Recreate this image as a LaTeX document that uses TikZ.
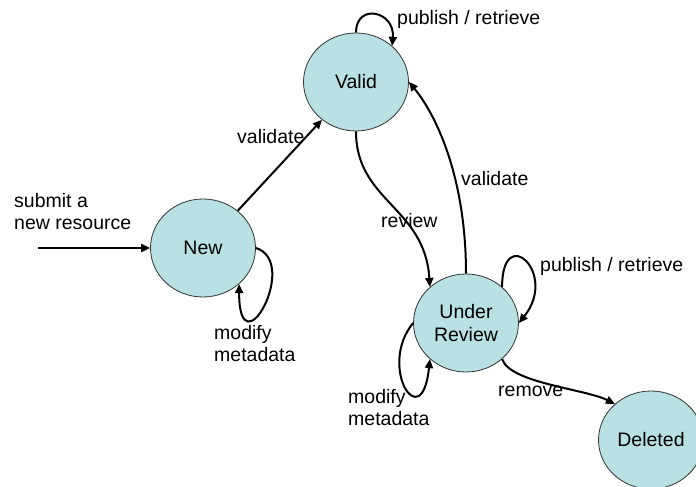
\documentclass[tikz,border=0pt]{standalone}
\usepackage{fontspec}
\setmainfont{Liberation Sans}
\usetikzlibrary{arrows.meta,shapes.geometric}
\definecolor{statefill}{RGB}{185,224,227}
\tikzset{
  state/.style={ellipse, draw=black!80, line width=0.8pt, fill=statefill,
    minimum width=105pt, minimum height=98pt, inner sep=0pt, align=center,
    font=\fontsize{19.5}{23}\selectfont},
  lbl/.style={anchor=west, inner sep=0pt, align=left,
    font=\fontsize{19.5}{22}\selectfont},
  arr/.style={line width=2pt, -{Triangle[length=9pt,width=8pt]}}
}
\begin{document}
\begin{tikzpicture}[x=1pt,y=1pt]
\clip (0,0) rectangle (696,487);
\fill[white] (0,0) rectangle (696,487);
% states (y = 487 - pixel row)
\node[state] (Valid) at (356,405) {Valid};
\node[state] (New) at (203,239) {New};
\node[state] (UR) at (466,164) {Under\\Review};
\node[state] (Del) at (651,47) {Deleted};
\coordinate (start) at (38,239);
% labels
\node[lbl] (Lsubmit) at (14,275.5) {submit a\\new resource};
\node[lbl] (Lval1) at (237,350) {validate};
\node[lbl] (Lpub1) at (397,468) {publish / retrieve};
\node[lbl] (Lval2) at (461,308) {validate};
\node[lbl] (Lrev) at (381,266) {review};
\node[lbl] (Lpub2) at (540,221) {publish / retrieve};
\node[lbl] (Lmod1) at (214,143) {modify\\metadata};
\node[lbl] (Lmod2) at (348,79) {modify\\metadata};
\node[lbl] (Lrem) at (498,96) {remove};
% connectors
\draw[arr] (start) -- (New.west);
\draw[arr] (New.47) -- (Valid.228);
\draw[arr] (Valid.90) .. controls +(0,30) and +(3,35) .. (Valid.45);
\draw[arr] (Valid.270) .. controls +(0,-70) and +(-5,80) .. (UR.135);
\draw[arr] (UR.90) .. controls +(0,100) and +(25,-30) .. (Valid.0);
\draw[arr] (UR.45) .. controls +(0,65) and +(40,50) .. (UR.0);
\draw[arr] (UR.180) .. controls +(-36,-44) and +(-8,-78) .. (UR.225);
\draw[arr] (New.0) .. controls +(45,-14) and +(0,-89) .. (New.315);
\draw[arr] (UR.315) .. controls +(8,-24) and +(-30,15) .. (Del.135);
\end{tikzpicture}
\end{document}
